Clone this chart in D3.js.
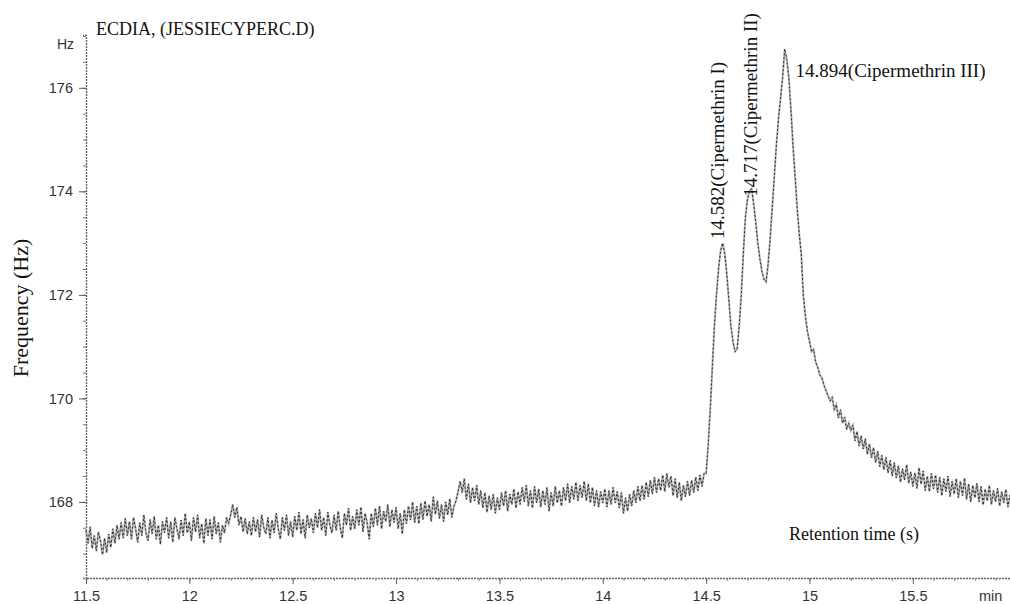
<!DOCTYPE html>
<html>
<head>
<meta charset="utf-8">
<script src="https://cdn.jsdelivr.net/npm/d3@7"></script>
<style>
  html, body { margin: 0; padding: 0; background: #fff; }
  svg { display: block; }
</style>
</head>
<body>
<script>
// ---- Data ----
const timeStart = 11.5;      // min
const timeStep = 0.01;       // min, sampling interval
const freqValues = [
  // 11.50
  167.45,167.20,167.52,167.10,167.35,167.05,167.42,167.25,166.98,167.30,
  // 11.60
  167.02,167.38,167.12,167.48,167.20,167.55,167.28,167.60,167.30,167.68,
  // 11.70
  167.35,167.62,167.28,167.70,167.48,167.22,167.60,167.35,167.75,167.40,
  // 11.80
  167.25,167.66,167.38,167.72,167.28,167.55,167.18,167.62,167.40,167.70,
  // 11.90
  167.30,167.62,167.22,167.70,167.48,167.28,167.65,167.35,167.78,167.40,
  // 12.00
  167.62,167.25,167.70,167.42,167.75,167.30,167.58,167.20,167.68,167.35,
  // 12.10
  167.66,167.28,167.72,167.38,167.60,167.22,167.55,167.40,167.70,167.58,
  // 12.20
  167.75,167.95,167.70,167.90,167.55,167.72,167.42,167.68,167.38,167.62,
  // 12.30
  167.35,167.70,167.42,167.66,167.32,167.75,167.50,167.38,167.70,167.30,
  // 12.40
  167.65,167.40,167.78,167.48,167.28,167.70,167.45,167.75,167.35,167.62,
  // 12.50
  167.32,167.72,167.45,167.80,167.38,167.66,167.30,167.75,167.50,167.68,
  // 12.60
  167.40,167.78,167.50,167.85,167.45,167.70,167.35,167.80,167.55,167.40,
  // 12.70
  167.75,167.45,167.82,167.50,167.30,167.78,167.55,167.88,167.45,167.72,
  // 12.80
  167.48,167.85,167.55,167.90,167.42,167.78,167.60,167.28,167.78,167.52,
  // 12.90
  167.88,167.55,167.92,167.48,167.82,167.62,167.95,167.52,167.85,167.60,
  // 13.00
  167.90,167.48,167.78,167.38,167.85,167.58,167.92,167.65,168.00,167.60,
  // 13.10
  167.92,167.58,167.98,167.66,168.02,167.72,167.95,167.62,168.10,167.76,
  // 13.20
  168.02,167.68,167.95,167.62,168.00,167.75,168.06,167.70,167.92,168.02,
  // 13.30
  168.20,168.40,168.18,168.45,168.05,168.35,167.98,168.28,168.02,168.32,
  // 13.40
  167.95,168.22,167.88,168.18,167.80,168.12,167.85,168.15,167.78,168.08,
  // 13.50
  167.85,168.18,167.92,168.22,167.82,168.15,167.95,168.25,167.88,168.20,
  // 13.60
  167.95,168.28,168.00,168.32,167.92,168.22,167.88,168.30,167.98,168.25,
  // 13.70
  167.90,168.22,167.95,168.28,167.82,168.18,167.92,168.30,167.98,168.22,
  // 13.80
  167.92,168.28,168.02,168.35,167.98,168.30,168.05,168.38,168.02,168.32,
  // 13.90
  168.08,168.40,168.02,168.35,167.98,168.28,167.92,168.22,167.90,168.20,
  // 14.00
  167.98,168.25,167.90,168.22,167.95,168.28,167.98,168.20,167.88,168.18,
  // 14.10
  167.78,168.08,167.82,168.15,167.92,168.22,167.98,168.30,168.02,168.32,
  // 14.20
  168.05,168.38,168.10,168.42,168.15,168.48,168.18,168.45,168.22,168.52,
  // 14.30
  168.20,168.55,168.28,168.50,168.12,168.45,168.08,168.38,168.02,168.32,
  // 14.40
  168.10,168.40,168.12,168.42,168.18,168.48,168.22,168.52,168.30,168.55,
  // 14.50
  168.55,169.10,169.80,170.60,171.40,172.00,172.50,172.85,173.00,172.80,
  // 14.60
  172.40,171.90,171.40,171.10,170.90,170.95,171.40,172.00,172.80,173.50,
  // 14.70
  173.85,174.00,174.05,173.75,173.40,173.00,172.70,172.45,172.30,172.25,
  // 14.80
  172.60,173.10,173.70,174.30,174.90,175.40,175.80,176.20,176.75,176.55,
  // 14.90
  176.20,175.60,174.90,174.30,173.70,173.20,172.80,172.00,171.60,171.30,
  // 15.00
  171.10,170.90,170.95,170.70,170.60,170.45,170.40,170.25,170.15,170.05,
  // 15.10
  169.95,170.02,169.78,169.88,169.62,169.78,169.52,169.64,169.40,169.52,
  // 15.20
  169.38,169.48,169.18,169.36,169.08,169.28,169.02,169.22,168.92,169.12,
  // 15.30
  168.85,169.05,168.76,168.98,168.68,168.90,168.62,168.86,168.56,168.80,
  // 15.40
  168.50,168.76,168.46,168.70,168.38,168.64,168.42,168.72,168.36,168.58,
  // 15.50
  168.30,168.56,168.26,168.66,168.34,168.60,168.22,168.50,168.20,168.55,
  // 15.60
  168.25,168.52,168.18,168.48,168.12,168.45,168.20,168.50,168.10,168.40,
  // 15.70
  168.15,168.45,168.08,168.40,168.12,168.46,168.05,168.35,168.00,168.32,
  // 15.80
  168.08,168.36,168.00,168.30,167.94,168.25,168.02,168.32,167.95,168.22,
  // 15.90
  168.00,168.26,167.92,168.20,167.98,168.24,167.90,168.14
];
const xTickValues = [11.5, 12, 12.5, 13, 13.5, 14, 14.5, 15, 15.5];
const xTickLabels = ["11.5", "12", "12.5", "13", "13.5", "14", "14.5", "15", "15.5"];
const yTickValues = [168, 170, 172, 174, 176];
const yTickLabels = ["168", "170", "172", "174", "176"];
const peakTimes = [14.582, 14.717, 14.894];
const peakHeights = [173.0, 174.05, 176.75];
const peakLabels = ["14.582(Cipermethrin I)", "14.717(Cipermethrin II)", "14.894(Cipermethrin III)"];
const titleText = "ECDIA, (JESSIECYPERC.D)";
const yAxisTitle = "Frequency (Hz)";
const xAxisTitle = "Retention time (s)";

// ---- Chart ----
const W = 1010, H = 604;
const svg = d3.select("body").append("svg").attr("width", W).attr("height", H);
svg.append("rect").attr("width", W).attr("height", H).attr("fill", "#fff");

const x = d3.scaleLinear().domain([11.5, 15.97]).range([86, 1010]);
const y = d3.scaleLinear().domain([166.53, 177.02]).range([578, 35]);

const data = freqValues.map((v, i) => ({ t: timeStart + i * timeStep, v }));

const sans = "Liberation Sans, Arial, sans-serif";
const serif = "Liberation Serif, Times New Roman, serif";

// Y axis
const yMinor = d3.range(167, 177.01, 0.5);
const gyMinor = svg.append("g").attr("transform", "translate(86,0)")
  .call(d3.axisLeft(y).tickValues(yMinor).tickSize(3).tickFormat(""));
gyMinor.select(".domain").attr("stroke", "#666").attr("stroke-width", 1.4).attr("stroke-dasharray", "2,1");
gyMinor.selectAll(".tick line").attr("stroke", "#777");

const gy = svg.append("g").attr("transform", "translate(86,0)")
  .call(d3.axisLeft(y).tickValues(yTickValues).tickSize(7).tickPadding(6)
    .tickFormat((d, i) => yTickLabels[i]));
gy.select(".domain").remove();
gy.selectAll(".tick line").attr("stroke", "#555");
gy.selectAll(".tick text").attr("font-family", sans)
  .attr("font-size", 14.5).attr("fill", "#333");

svg.append("text").attr("x", 74).attr("y", 49).attr("text-anchor", "end")
  .attr("font-family", sans).attr("font-size", 14)
  .attr("fill", "#333").text("Hz");

// X axis
const xMinor = d3.range(11.5, 15.96, 0.1);
const gxMinor = svg.append("g").attr("transform", "translate(0,578)")
  .call(d3.axisBottom(x).tickValues(xMinor).tickSize(3).tickFormat(""));
gxMinor.select(".domain").attr("stroke", "#666").attr("stroke-width", 1.4).attr("stroke-dasharray", "2,1");
gxMinor.selectAll(".tick line").attr("stroke", "#888");

const gx = svg.append("g").attr("transform", "translate(0,578)")
  .call(d3.axisBottom(x).tickValues(xTickValues).tickSize(6).tickPadding(7)
    .tickFormat((d, i) => xTickLabels[i]));
gx.select(".domain").remove();
gx.selectAll(".tick line").attr("stroke", "#666");
gx.selectAll(".tick text").attr("font-family", sans)
  .attr("font-size", 14.5).attr("fill", "#333");

svg.append("text").attr("x", 979).attr("y", 601)
  .attr("font-family", sans).attr("font-size", 14.5)
  .attr("fill", "#333").text("min");

// Trace
const line = d3.line().x(d => x(d.t)).y(d => y(d.v));
svg.append("path").datum(data).attr("d", line)
  .attr("fill", "none").attr("stroke", "#b4b4b4").attr("stroke-width", 2);
svg.append("path").datum(data).attr("d", line)
  .attr("fill", "none").attr("stroke", "#2a2a2a").attr("stroke-width", 1)
  .attr("stroke-dasharray", "2,2");

// Texts
svg.append("text").attr("x", 96).attr("y", 35).attr("font-family", serif)
  .attr("font-size", 18).attr("fill", "#111").text(titleText);

svg.append("text").attr("transform", "translate(28,308) rotate(-90)")
  .attr("text-anchor", "middle").attr("font-family", serif).attr("font-size", 22)
  .attr("fill", "#111").text(yAxisTitle);

svg.append("text").attr("x", 789).attr("y", 540).attr("font-family", serif)
  .attr("font-size", 18).attr("fill", "#111").text(xAxisTitle);

// Peak annotations
const ann = svg.append("g").attr("font-family", serif).attr("font-size", 19).attr("fill", "#111");
ann.append("text")
  .attr("transform", `translate(${x(peakTimes[0]) + 1},${y(peakHeights[0]) - 4}) rotate(-90)`)
  .text(peakLabels[0]);
ann.append("text")
  .attr("transform", `translate(${x(peakTimes[1]) + 6},${y(peakHeights[1]) + 8}) rotate(-90)`)
  .text(peakLabels[1]);
ann.append("text")
  .attr("x", x(peakTimes[2]) + 8).attr("y", y(peakHeights[2]) + 28)
  .text(peakLabels[2]);
</script>
</body>
</html>
